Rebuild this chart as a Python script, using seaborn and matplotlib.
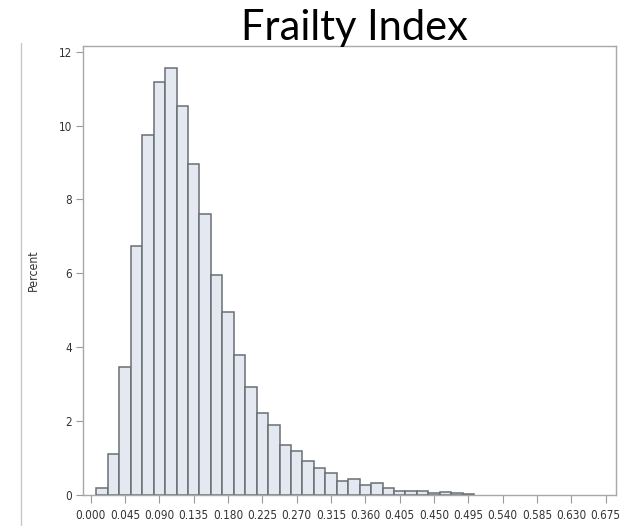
import matplotlib
matplotlib.use('Agg')
import matplotlib.pyplot as plt
import seaborn as sns
from matplotlib.lines import Line2D
from matplotlib import font_manager

# ---- data ----
bin_midpoints = [0.015, 0.030, 0.045, 0.060, 0.075, 0.090, 0.105, 0.120, 0.135,
                 0.150, 0.165, 0.180, 0.195, 0.210, 0.225, 0.240, 0.255, 0.270,
                 0.285, 0.300, 0.315, 0.330, 0.345, 0.360, 0.375, 0.390, 0.405,
                 0.420, 0.435, 0.450, 0.465, 0.480, 0.495]
percent = [0.18, 1.10, 3.47, 6.74, 9.75, 11.18, 11.55, 10.54, 8.96,
           7.60, 5.95, 4.94, 3.80, 2.91, 2.21, 1.89, 1.35, 1.20,
           0.91, 0.72, 0.59, 0.37, 0.43, 0.28, 0.32, 0.18, 0.12,
           0.12, 0.12, 0.06, 0.09, 0.06, 0.03]
bin_width = 0.015
x_ticks = [0.000, 0.045, 0.090, 0.135, 0.180, 0.225, 0.270, 0.315, 0.360,
           0.405, 0.450, 0.495, 0.540, 0.585, 0.630, 0.675]
y_ticks = [0, 2, 4, 6, 8, 10, 12]
title = "Frailty Index"
y_label = "Percent"

sns.set_theme(style='white')

# pick a narrow sans font if one is installed
names = {(f.name, f.stretch) for f in font_manager.fontManager.ttflist}
if any(n == 'Liberation Sans Narrow' for n, s in names):
    plt.rcParams['font.family'] = ['Liberation Sans Narrow', 'DejaVu Sans']
    lab_size = 9.5
elif any(n == 'DejaVu Sans' and s in ('condensed', 'semi-condensed') for n, s in names):
    plt.rcParams['font.family'] = ['DejaVu Sans']
    plt.rcParams['font.stretch'] = 'condensed'
    lab_size = 8.4
else:
    plt.rcParams['font.family'] = ['Liberation Sans', 'DejaVu Sans']
    lab_size = 8.2

W, H = 629, 526
fig = plt.figure(figsize=(W / 100, H / 100), dpi=100)
left, right, top, bottom = 83.3, 615.7, 45.7, 495.0
ax = fig.add_axes([left / W, 1 - bottom / H, (right - left) / W, (bottom - top) / H])

edges = [m - bin_width / 2 for m in bin_midpoints] + [bin_midpoints[-1] + bin_width / 2]
sns.histplot(x=bin_midpoints, weights=percent, bins=edges, stat='count', ax=ax,
             color='#E3E8F1', edgecolor='#6A6E75', linewidth=1.1, alpha=1.0)

ax.set_xlim(-0.0097, 0.6881)
ax.set_ylim(0, 12.16)
ax.set_xticks(x_ticks)
ax.set_xticklabels([f"{t:.3f}" for t in x_ticks])
ax.set_yticks(y_ticks)
ax.set_yticklabels([str(t) for t in y_ticks])
ax.tick_params(axis='both', direction='out', bottom=True, left=True, length=5,
               width=0.8, color='#9A9A9A', labelsize=lab_size, labelcolor='#333333', pad=3)
ax.tick_params(axis='x', length=6, pad=4)
for s in ax.spines.values():
    s.set_color('#A8A8A8')
    s.set_linewidth(1.0)

ax.set_xlabel('')
ax.set_ylabel(y_label, fontsize=lab_size + 0.4, color='#333333')
ax.yaxis.set_label_coords((40 - left) / (right - left), 0.5)

fig.text(354 / W, 1 - 40 / H, title, ha='center', va='baseline',
         fontsize=30, family=['Lato', 'DejaVu Sans'], stretch='normal', color='black')

fig.add_artist(Line2D([21 / W, 21 / W], [1 - 43 / H, 0], transform=fig.transFigure,
                      color='#C8C8C8', linewidth=1))

fig.savefig('out.png', dpi=100)
